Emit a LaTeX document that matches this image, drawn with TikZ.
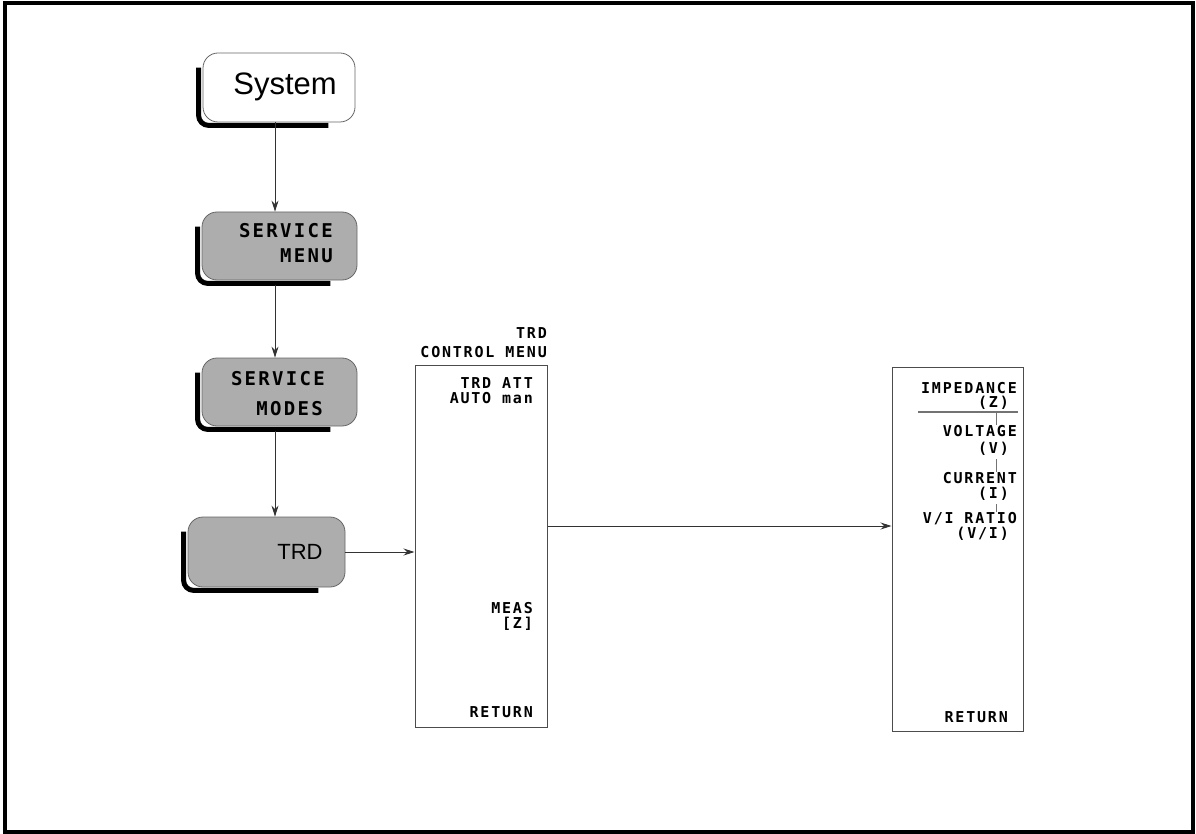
\documentclass[tikz,border=0pt]{standalone}
\usepackage{fontspec}
\setmainfont{Liberation Sans}
\newfontfamily\hpfont[LetterSpace=12]{DejaVu Sans Mono}
\usetikzlibrary{arrows.meta}
\begin{document}
\begin{tikzpicture}[x=1pt,y=-1pt,
  btn/.style={draw=black!60, line width=0.8pt, rounded corners=15pt, inner sep=0pt, fill=white},
  greybtn/.style={btn, fill=black!32},
  shadowline/.style={line width=5pt, black, rounded corners=10pt},
  arr/.style={draw=black!80, line width=0.9pt, -{Stealth[length=11pt,width=7pt]}},
  menubox/.style={draw=black!70, line width=1pt, inner sep=0pt},
  mtxt/.style={font=\hpfont\bfseries\fontsize{15}{15}\selectfont, inner sep=0pt, anchor=base east},
  btxt/.style={font=\hpfont\bfseries\fontsize{19}{19}\selectfont, inner sep=0pt, anchor=base east},
  sans/.style={inner sep=0pt, anchor=base},
  sep/.style={draw=black!55, line width=1.2pt},
  tick/.style={draw=black!55, line width=0.8pt}
]
\useasboundingbox (0,0) rectangle (1196,834);
\draw[line width=4pt] (5,3) rectangle (1193,832);

% coordinate for vertical arrows
\coordinate (ax) at (275,0);
\coordinate (lvl) at (700,526);

% shadows
\path (279,87.5) coordinate (csys) (279.5,246) coordinate (cmenu) (279.5,392) coordinate (cmodes) (266.5,552) coordinate (ctrd);
\node[btn, draw=none, fill=none, minimum width=152pt, minimum height=69pt] (sysS) at (csys) {};
\node[btn, draw=none, fill=none, minimum width=155pt, minimum height=68pt] (smenuS) at (cmenu) {};
\node[btn, draw=none, fill=none, minimum width=155pt, minimum height=68pt] (smodesS) at (cmodes) {};
\node[btn, draw=none, fill=none, minimum width=157pt, minimum height=70pt] (trdS) at (ctrd) {};
\foreach \n in {sysS,smenuS,smodesS,trdS}{
  \draw[shadowline] ([xshift=-4pt,yshift=-15pt]\n.north west) |- ([xshift=-27pt,yshift=-3pt]\n.south east);
}

% buttons
\node[btn, minimum width=152pt, minimum height=69pt] (sys) at (csys) {};
\node[greybtn, minimum width=155pt, minimum height=68pt] (smenu) at (cmenu) {};
\node[greybtn, minimum width=155pt, minimum height=68pt] (smodes) at (cmodes) {};
\node[greybtn, minimum width=157pt, minimum height=70pt] (trd) at (ctrd) {};

\node[sans, font=\fontsize{31}{31}\selectfont] (tsys) at (285,95) {System};
\node[btxt] (t1) at (333,238) {SERVICE};
\node[btxt] (t2) at (333,263) {MENU};
\node[btxt] (t3) at (325,385) {SERVICE};
\node[btxt] (t4) at (323,415) {MODES};
\node[sans, font=\fontsize{22}{22}\selectfont] (ttrd) at (300,559) {TRD};

% menu boxes
\node[menubox, minimum width=132pt, minimum height=362pt] (m1) at (481,546) {};
\node[menubox, minimum width=131pt, minimum height=364pt] (m2) at (957.5,549) {};

\node[mtxt] (h1) at (547,338) {TRD};
\node[mtxt] (h2) at (547,357) {CONTROL MENU};
\node[mtxt] (a1) at (533,388) {TRD ATT};
\node[mtxt] (a2) at (533,403) {AUTO man};
\node[mtxt] (a3) at (533,613) {MEAS};
\node[mtxt] (a4) at (533,628) {[Z]};
\node[mtxt] (a5) at (533,717) {RETURN};

\node[mtxt] (b1) at (1017,393) {IMPEDANCE};
\node[mtxt] (b2) at (1009,407) {(Z)};
\node[mtxt] (b3) at (1017,436) {VOLTAGE};
\node[mtxt] (b4) at (1009,453) {(V)};
\node[mtxt] (b5) at (1017,483) {CURRENT};
\node[mtxt] (b6) at (1009,498) {(I)};
\node[mtxt] (b7) at (1017,523) {V/I RATIO};
\node[mtxt] (b8) at (1009,538) {(V/I)};
\node[mtxt] (b9) at (1008,722) {RETURN};

\coordinate (s1) at (918,412);
\coordinate (s2) at (1018,412);
\draw[sep] (s1) -- (s2);
\coordinate (k) at (996,0);
\draw[tick] (k |- s1) -- (k |- b3.north);
\draw[tick] ([yshift=-4pt]k |- b4.south) -- (k |- b5.north);
\draw[tick] ([yshift=-4pt]k |- b6.south) -- (k |- b7.north);

% arrows
\draw[arr] (sys.south -| ax) -- (smenu.north -| ax);
\draw[arr] ([yshift=-5pt]smenu.south -| ax) -- (smodes.north -| ax);
\draw[arr] ([yshift=-5pt]smodes.south -| ax) -- (trd.north -| ax);
\draw[arr] (trd.east) -- (m1.west |- trd.east);
\draw[arr] (m1.east |- lvl) -- (m2.west |- lvl);
\end{tikzpicture}
\end{document}
